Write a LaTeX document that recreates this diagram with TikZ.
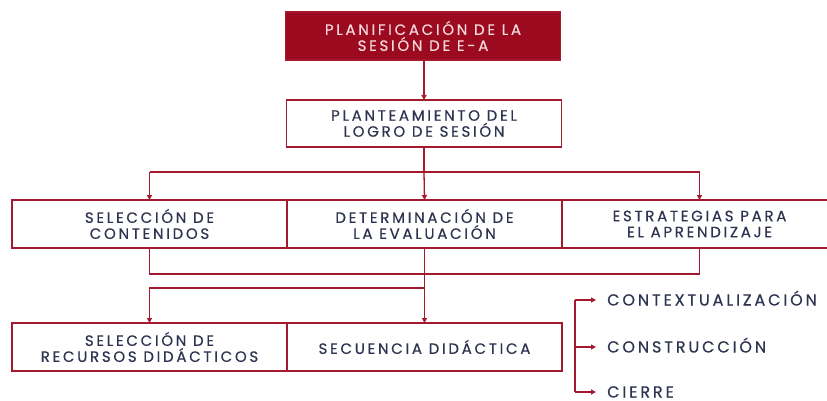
\documentclass[tikz,border=0pt]{standalone}
\usepackage{fontspec}
\setmainfont{Poppins}[LetterSpace=18,FakeBold=0.45]
\usetikzlibrary{arrows.meta}
\definecolor{wine}{HTML}{9B0A1E}
\definecolor{ln}{HTML}{A31A2E}
\definecolor{txt}{HTML}{2E3350}
\definecolor{toptxt}{HTML}{F5D8DC}
\begin{document}
\begin{tikzpicture}[x=1pt,y=-1pt,
  box/.style={draw=ln,line width=1.3pt,minimum width=275pt,minimum height=48pt,
    inner sep=0pt,outer sep=0pt,align=center,text=txt,font=\fontsize{15}{16}\selectfont},
  con/.style={draw=ln,line width=1.3pt},
  arr/.style={con,-{Triangle[length=5pt,width=5pt]}},
  lab/.style={anchor=west,inner sep=0pt,text=txt,text height=11pt,text depth=0pt,
    font=\fontsize{16}{16}\selectfont}]
\clip (0,0) rectangle (827,401);
\fill[white] (0,0) rectangle (827,401);
\node[box,fill=wine,text=toptxt] (top) at (423,36) {PLANIFICACIÓN DE LA\\SESIÓN DE E-A};
\node[box,minimum height=47pt] (plan) at (424,123.5) {PLANTEAMIENTO DEL\\LOGRO DE SESIÓN};
\node[box] (sc) at (149.5,224) {SELECCIÓN DE\\CONTENIDOS};
\node[box] (de) at (424.5,224) {DETERMINACIÓN DE\\LA EVALUACIÓN};
\node[box] (ea) at (699.5,224) {ESTRATEGIAS PARA\\EL APRENDIZAJE};
\node[box] (rd) at (149.5,347) {SELECCIÓN DE\\RECURSOS DIDÁCTICOS};
\node[box] (sd) at (424.5,347) {SECUENCIA DIDÁCTICA};
\node[lab] (cx) at (607,300) {CONTEXTUALIZACIÓN};
\node[lab] (cs) at (607,347) {CONSTRUCCIÓN};
\node[lab] (ci) at (607,392) {CIERRE};
\coordinate (h1) at (424,172);
\coordinate (h2) at (424,274);
\coordinate (h3) at (424,288);
\coordinate (b1) at (575,300);
\coordinate (b3) at (575,392);
\draw[arr] (top.south -| plan.north) -- (plan.north);
\draw[con] (plan.south) -- (h1);
\draw[con] (sc.north |- h1) -- (ea.north |- h1);
\draw[arr] (sc.north |- h1) -- (sc.north);
\draw[arr] (h1) -- (de.north);
\draw[arr] (ea.north |- h1) -- (ea.north);
\draw[con] (sc.south) -- (sc.south |- h2) -- (ea.south |- h2) -- (ea.south);
\draw[arr] (de.south) -- (sd.north);
\draw[arr] (sd.north |- h3) -- (rd.north |- h3) -- (rd.north);
\draw[con] (b1) -- (b3);
\draw[arr,shorten >=11pt] (b1) -- (cx.west);
\draw[arr,shorten >=11pt] (b1 |- cs.west) -- (cs.west);
\draw[arr,shorten >=11pt] (b3) -- (ci.west);
\end{tikzpicture}
\end{document}
